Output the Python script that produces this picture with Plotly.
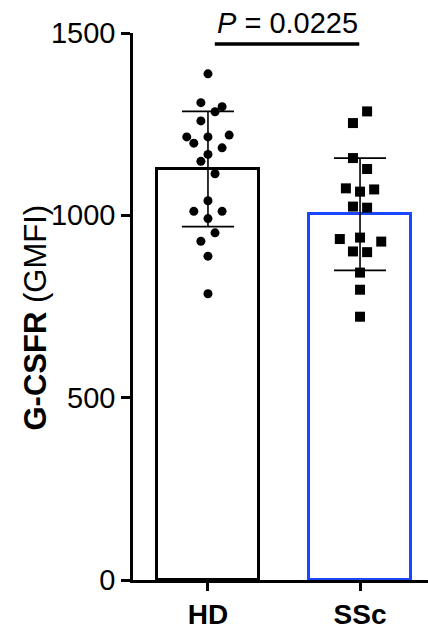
import plotly.graph_objects as go

categories = ["HD", "SSc"]
means = [1127, 1003]
sds = [158, 154]

hd_values = [1388, 1309, 1298, 1284, 1259, 1215, 1215, 1220, 1198, 1185, 1167,
             1148, 1114, 1040, 1011, 1011, 991, 952, 929, 888, 785]
hd_cols = [0, -1, 2, 1, -1, -3, 0, 3, -2, 2, 0, -1, 1, 0, -2, 2, 0, 1, -1, 0, 0]

ssc_values = [1285, 1253, 1157, 1127, 1074, 1065, 1071, 1024, 1021, 935, 939,
              928, 901, 899, 843, 796, 722]
ssc_cols = [1, -1, -1, 1, -2, 0, 2, -1, 1, -2.86, 0, 3, -1, 1, 0, 0, 0]

p_text = "<i>P</i> = 0.0225"
y_ticks = [0, 500, 1000, 1500]
y_title = "<b>G-CSFR</b> (GMFI)"

FONT = "Liberation Sans, Arial, sans-serif"
BLUE = "#1B46FF"
STEP = 0.0465

fig = go.Figure()
fig.add_trace(go.Bar(
    x=[0, 1], y=means, width=0.67,
    marker=dict(color="white", line=dict(color=["black", BLUE], width=3)),
    error_y=dict(type="data", array=sds, visible=True, color="black",
                 thickness=1.6, width=26),
    showlegend=False,
))
fig.add_trace(go.Scatter(
    x=[0 + c * STEP for c in hd_cols], y=hd_values, mode="markers",
    marker=dict(symbol="circle", size=9, color="black"), showlegend=False,
))
fig.add_trace(go.Scatter(
    x=[1 + c * STEP for c in ssc_cols], y=ssc_values, mode="markers",
    marker=dict(symbol="square", size=10, color="black"), showlegend=False,
))

fig.add_shape(type="line", xref="x", yref="y", x0=0.045, x1=0.995,
              y0=1470, y1=1470, line=dict(color="black", width=3.5))
fig.add_annotation(x=0.52, y=1470, xref="x", yref="y", text=p_text,
                   showarrow=False, yanchor="bottom", yshift=3,
                   font=dict(family=FONT, size=29, color="black"))
fig.add_annotation(x=-0.332, y=0.48, xref="paper", yref="paper", text=y_title,
                   showarrow=False, textangle=-90, xanchor="center",
                   yanchor="middle",
                   font=dict(family=FONT, size=31, color="black"))

fig.update_layout(
    width=428, height=630,
    margin=dict(l=133, r=0, t=33, b=47),
    plot_bgcolor="white", paper_bgcolor="white",
    font=dict(family=FONT, color="black"),
    bargap=0,
    xaxis=dict(
        range=[-0.493, 1.447], tickvals=[0, 1],
        ticktext=["<b>HD</b>", "<b>SSc</b>"],
        tickfont=dict(size=28, family=FONT), showline=True, linecolor="black",
        linewidth=2.5, ticks="outside", ticklen=8, tickwidth=2.5,
        tickcolor="black", showgrid=False, zeroline=False,
    ),
    yaxis=dict(
        range=[0, 1500], tickvals=y_ticks, tickfont=dict(size=29, family=FONT),
        showline=True, linecolor="black", linewidth=2.5, ticks="outside",
        ticklen=9, tickwidth=2.5, tickcolor="black", showgrid=False,
        zeroline=False,
    ),
)

fig.write_html("out.html")
